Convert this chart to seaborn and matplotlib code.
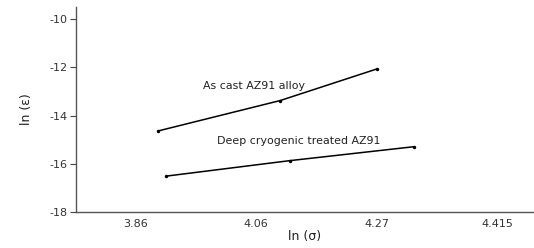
import matplotlib
matplotlib.use("Agg")
import matplotlib.pyplot as plt
import seaborn as sns
import pandas as pd

# x positions are in axis units (the tick labels are spaced evenly, not by value)
x_ticks = [0, 1, 2, 3]
x_tick_labels = ["3.86", "4.06", "4.27", "4.415"]

as_cast_x = [0.19, 1.20, 2.00]
as_cast_y = [-14.64, -13.38, -12.07]

cryo_x = [0.26, 1.28, 2.31]
cryo_y = [-16.51, -15.87, -15.29]

sns.set_style("white")
plt.rcParams["font.family"] = ["DejaVu Sans"]
plt.rcParams["axes.unicode_minus"] = False

df = pd.concat([
    pd.DataFrame({"x": as_cast_x, "y": as_cast_y, "alloy": "As cast AZ91 alloy"}),
    pd.DataFrame({"x": cryo_x, "y": cryo_y, "alloy": "Deep cryogenic treated AZ91"}),
])

fig = plt.figure(figsize=(5.34, 2.48), dpi=100)
ax = fig.add_axes([0.142, 0.145, 0.858, 0.827])

sns.lineplot(data=df, x="x", y="y", units="alloy", estimator=None,
             color="black", linewidth=1.1, marker="o", markersize=2.5,
             markeredgewidth=0, ax=ax, legend=False)

ax.text(0.56, -12.77, "As cast AZ91 alloy", fontsize=7.9, ha="left", va="center",
        color="#222222")
ax.text(0.68, -15.05, "Deep cryogenic treated AZ91", fontsize=7.9, ha="left",
        va="center", color="#222222")

ax.set_xlim(-0.49, 3.3)
ax.set_ylim(-18, -9.5)
ax.set_xticks(x_ticks)
ax.set_xticklabels(x_tick_labels)
ax.set_yticks([-18, -16, -14, -12, -10])

ax.set_xlabel("ln (σ)", fontsize=9, labelpad=1, color="#222222")
ax.set_ylabel("ln (ε)", fontsize=9, labelpad=12, color="#222222")
ax.tick_params(axis="x", length=0, labelsize=8, pad=5, colors="#444444")
ax.tick_params(axis="y", length=4, width=0.8, labelsize=8, pad=2, left=True,
               colors="#444444")
ax.tick_params(axis="both", labelcolor="#333333")

sns.despine(ax=ax)
for side in ["left", "bottom"]:
    ax.spines[side].set_color("#555555")
    ax.spines[side].set_linewidth(1.0)

fig.savefig("out.png", dpi=100)
